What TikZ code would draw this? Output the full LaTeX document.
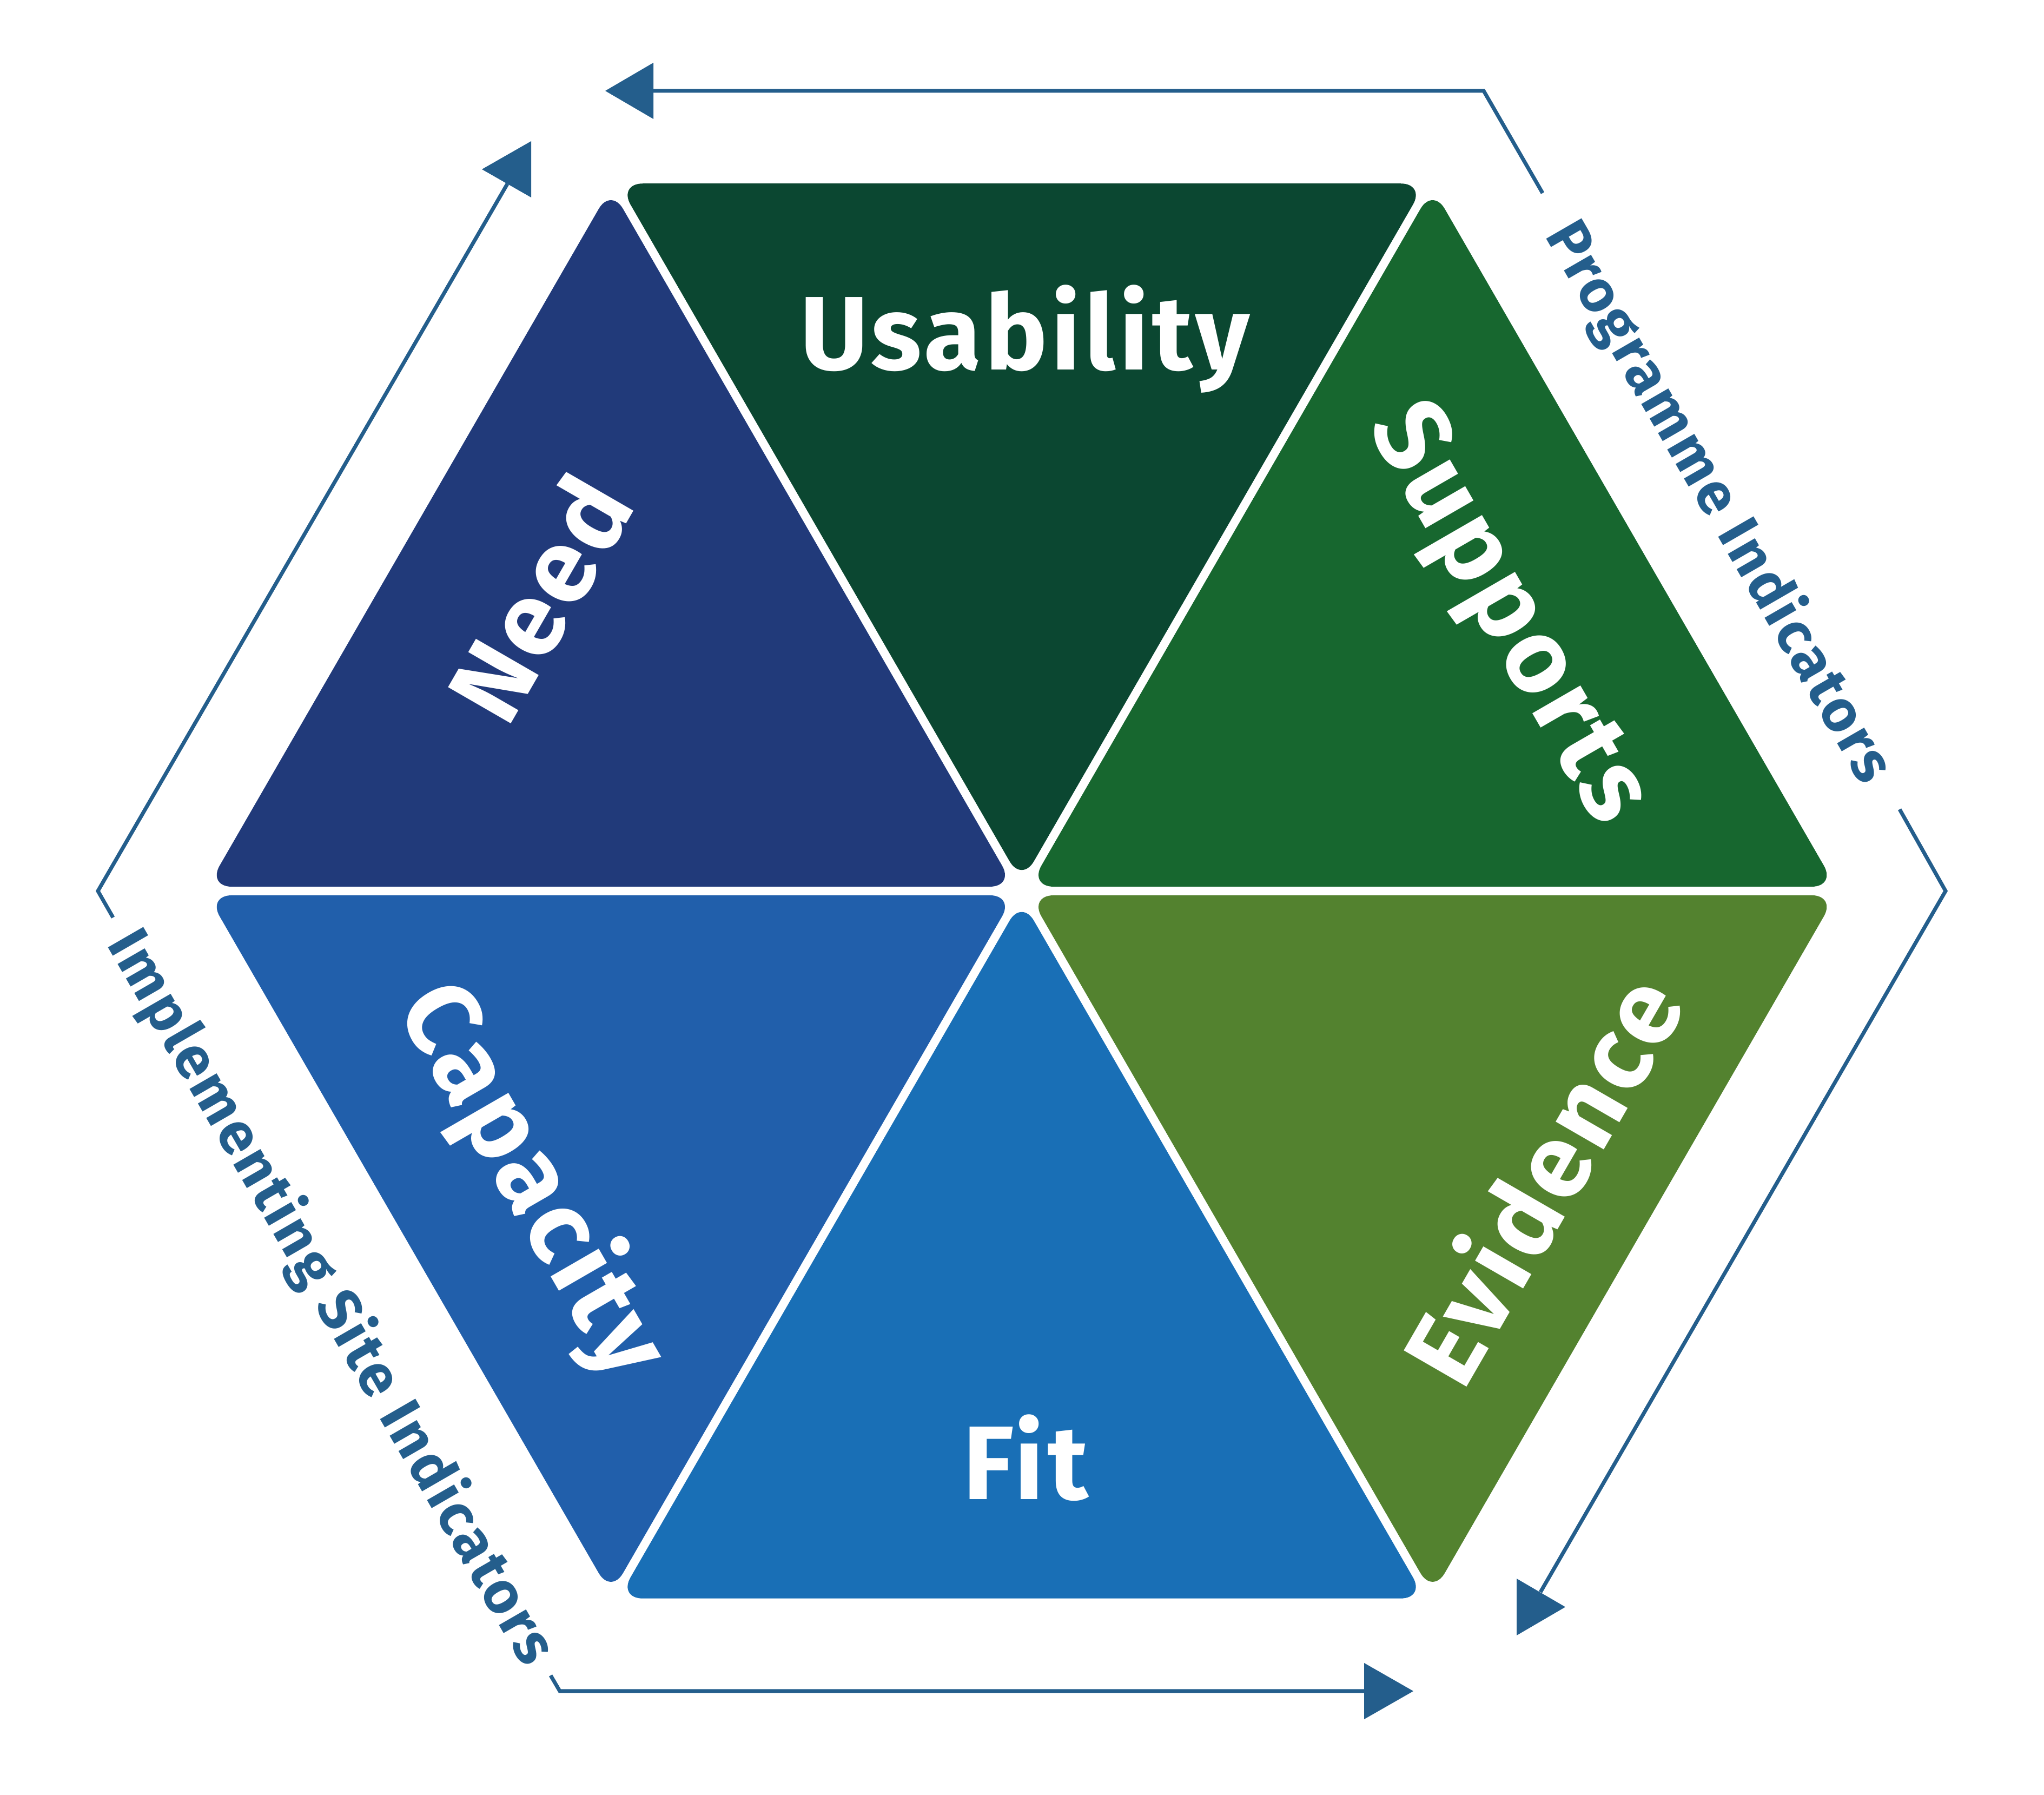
\documentclass[tikz,border=0pt]{standalone}
\usepackage{fontspec}
\setmainfont{Fira Sans}
\newfontfamily\labelfont{Fira Sans}[LetterSpace=3.5]
\newfontfamily\sidefont{Fira Sans}[LetterSpace=4]
\usetikzlibrary{calc}
\definecolor{needblue}{HTML}{213A7A}
\definecolor{usegreen}{HTML}{0B4731}
\definecolor{suppgreen}{HTML}{17672F}
\definecolor{evigreen}{HTML}{53822F}
\definecolor{fitblue}{HTML}{196FB6}
\definecolor{capblue}{HTML}{215FAB}
\definecolor{indblue}{HTML}{245E8C}
\begin{document}
\begin{tikzpicture}[
    piece/.style={rounded corners=0.45cm},
    label/.style={text=white, inner sep=0pt, text height=1.33cm, text depth=0pt,
        font=\labelfont\fontsize{55}{55}\selectfont\bfseries},
    side/.style={text=indblue, inner sep=0pt, text height=0.76cm, text depth=0pt,
        font=\sidefont\fontsize{31}{31}\selectfont\bfseries},
    indline/.style={draw=indblue, line width=0.07cm}
]
        \useasboundingbox (0,0) rectangle (37.79,33.18);
        \coordinate (c) at (18.89,16.71);
        % the six pieces of the hexagon
        \foreach \a/\col in {0/suppgreen,60/usegreen,120/needblue,180/capblue,240/fitblue,300/evigreen}{
            \fill[\col, piece] ($(c)+(\a+30:0.16)$) -- ($(c)+(\a:15.1)+(\a+120:0.092)$)
                -- ($(c)+(\a+60:15.1)+(\a-60:0.092)$) -- cycle;
        }
        \node[label] (usab) at (18.95,27.01) {Usability};
        \node[label, rotate=60] (need) at (10.0,22.1) {Need};
        \node[label, rotate=-60] (supp) at (28.0,21.9) {Supports};
        \node[label, rotate=60] (evid) at (28.55,11.35) {Evidence};
        \node[label, rotate=-60] (capa) at (9.9,11.4) {Capacity};
        \node[label] (fit) at (18.96,6.13) {Fit};

        % outer indicator lines
        \coordinate (o0) at (35.97,16.71);
        \coordinate (o60) at (27.43,31.50);
        \coordinate (o180) at (1.81,16.71);
        \coordinate (o240) at (10.35,1.92);
        \draw[indline] (28.52,29.61) -- (o60) -- (12.08,31.50);
        \fill[indblue] (12.08,32.02) -- (11.19,31.50) -- (12.08,30.98) -- cycle;
        \draw[indline] (2.09,16.22) -- (o180) -- (9.38,29.78);
        \fill[indblue] (9.82,30.57) -- (8.91,30.05) -- (9.82,29.53) -- cycle;
        \draw[indline] (35.12,18.22) -- (o0) -- (28.48,3.75);
        \fill[indblue] (28.04,4.00) -- (28.94,3.475) -- (28.04,2.95) -- cycle;
        \draw[indline] (10.18,2.21) -- (o240) -- (25.22,1.92);
        \fill[indblue] (25.22,2.44) -- (26.13,1.92) -- (25.22,1.40) -- cycle;
        \node[side, rotate=-60] (prog) at (31.82,23.92) {Programme Indicators};
        \node[side, rotate=-60] (impl) at (6.16,9.22) {Implementing Site Indicators};

    \end{tikzpicture}
\end{document}
